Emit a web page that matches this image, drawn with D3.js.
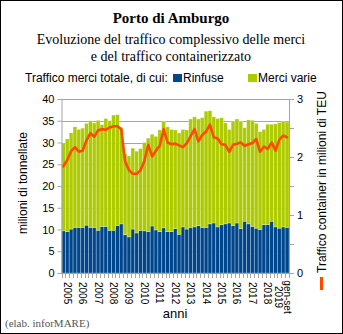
<!DOCTYPE html>
<html>

<head>
  <meta charset="utf-8">
  <script src="https://d3js.org/d3.v7.min.js"></script>
  <style>
    html,
    body {
      margin: 0;
      padding: 0;
      background: #fff;
    }
  </style>
</head>

<body>
  <div id="chart"></div>

  <script>
    // quarterly series, 2005 Q1 .. 2019 Q3
    var years = ["2005", "2006", "2007", "2008", "2009", "2010", "2011", "2012",
      "2013", "2014", "2015", "2016", "2017", "2018", "2019"];

    // million tonnes
    var rinfuse = [9.7, 9.5, 10.1, 10.5, 10.5, 10.5, 11.0, 10.5, 10.5, 9.8,
      10.7, 10.7, 9.8, 9.8, 10.9, 11.3, 8.8, 8.3, 10.1, 9.2,
      9.8, 9.7, 9.5, 10.8, 9.9, 9.5, 10.4, 9.5, 9.5, 10.2,
      8.9, 10.6, 10.1, 10.5, 10.6, 10.9, 10.5, 10.5, 11.3, 11.5,
      10.6, 11.1, 11.3, 11.5, 10.9, 11.5, 10.2, 11.9, 11.3, 10.7,
      10.3, 10.0, 11.1, 11.1, 11.9, 10.6, 10.3, 10.6, 10.5];

    var merciVarie = [20.2, 21.3, 22.1, 23.1, 22.5, 22.8, 23.4, 24.5, 24.0, 25.3,
      23.4, 24.8, 25.2, 26.5, 25.5, 22.0, 18.6, 18.6, 18.6, 18.8,
      18.8, 20.3, 21.5, 21.1, 21.5, 23.4, 24.4, 24.1, 23.5, 22.7,
      23.3, 22.4, 22.8, 24.9, 25.3, 24.5, 25.2, 26.7, 26.0, 24.4,
      24.9, 24.6, 23.2, 21.5, 24.0, 23.9, 24.6, 21.5, 23.9, 24.4,
      24.1, 22.5, 21.9, 23.1, 22.3, 23.7, 24.3, 24.3, 24.2];

    // million TEU
    var teu = [1.84, 1.95, 2.10, 2.17, 2.09, 2.11, 2.29, 2.41, 2.35, 2.46,
      2.48, 2.47, 2.51, 2.53, 2.53, 2.48, 1.92, 1.77, 1.71, 1.71,
      1.77, 1.93, 2.21, 2.01, 2.11, 2.20, 2.48, 2.25, 2.22, 2.23,
      2.20, 2.17, 2.24, 2.36, 2.48, 2.27, 2.38, 2.44, 2.56, 2.34,
      2.32, 2.22, 2.21, 2.09, 2.21, 2.23, 2.25, 2.19, 2.22, 2.24,
      2.31, 2.09, 2.18, 2.14, 2.25, 2.11, 2.30, 2.37, 2.34];

    var leftTicks = [0, 5, 10, 15, 20, 25, 30, 35, 40];
    var rightTicks = [0, 0.5, 1, 1.5, 2, 2.5, 3];
    var rightLabels = [0, 1, 2, 3];

    var quarters = [];
    years.forEach(function (y) {
      ["T1", "T2", "T3", "T4"].forEach(function (q) {
        if (quarters.length < rinfuse.length) quarters.push(y + " " + q);
      });
    });

    var W = 343, H = 334;
    var blue = "#00468c", green = "#aecb00", orange = "#ff4a00", grid = "#a6a6a6";
    var sans = "'Liberation Sans', Arial, sans-serif";
    var serif = "'Liberation Serif', 'Times New Roman', serif";

    var svg = d3.select("#chart").append("svg")
      .attr("width", W)
      .attr("height", H);

    // frame
    svg.append("rect")
      .attr("x", 0.5).attr("y", 0.5)
      .attr("width", W - 1).attr("height", H - 1)
      .attr("fill", "#fff")
      .attr("stroke", "#000");

    // titles
    svg.append("text")
      .attr("x", 171).attr("y", 23)
      .attr("text-anchor", "middle")
      .attr("font-family", serif).attr("font-weight", "bold").attr("font-size", 15)
      .text("Porto di Amburgo");

    svg.append("text")
      .attr("x", 171).attr("y", 44)
      .attr("text-anchor", "middle")
      .attr("font-family", serif).attr("font-size", 14)
      .text("Evoluzione del traffico complessivo delle merci");

    svg.append("text")
      .attr("x", 171).attr("y", 61)
      .attr("text-anchor", "middle")
      .attr("font-family", serif).attr("font-size", 14)
      .text("e del traffico containerizzato");

    // legend row
    var legend = svg.append("g")
      .attr("font-family", sans).attr("font-size", 12);
    legend.append("text").attr("x", 25).attr("y", 82).text("Traffico merci totale, di cui:");
    legend.append("rect").attr("x", 173).attr("y", 74).attr("width", 9).attr("height", 8).attr("fill", blue);
    legend.append("text").attr("x", 183).attr("y", 82).text("Rinfuse");
    legend.append("rect").attr("x", 248).attr("y", 74).attr("width", 9).attr("height", 8).attr("fill", green);
    legend.append("text").attr("x", 258).attr("y", 82).text("Merci varie");

    // scales
    var x = d3.scaleBand()
      .domain(quarters)
      .range([61.5, 289])
      .padding(0);

    var yL = d3.scaleLinear().domain([0, 40]).range([273, 99]);
    var yR = d3.scaleLinear().domain([0, 3]).range([273, 99]);

    // horizontal gridlines
    svg.append("g")
      .selectAll("line")
      .data(leftTicks.slice(1))
      .join("line")
      .attr("x1", 61.5).attr("x2", 289)
      .attr("y1", d => Math.round(yL(d)) + 0.5)
      .attr("y2", d => Math.round(yL(d)) + 0.5)
      .attr("stroke", grid);

    // stacked bars
    var rows = quarters.map((q, i) => ({ q: q, rinfuse: rinfuse[i], merci: merciVarie[i] }));
    var stack = d3.stack().keys(["rinfuse", "merci"])(rows);
    var colors = { rinfuse: blue, merci: green };

    svg.append("g")
      .selectAll("g")
      .data(stack)
      .join("g")
      .attr("fill", d => colors[d.key])
      .selectAll("rect")
      .data(d => d)
      .join("rect")
      .attr("x", d => x(d.data.q))
      .attr("width", x.bandwidth())
      .attr("y", d => yL(d[1]))
      .attr("height", d => yL(d[0]) - yL(d[1]))
      .attr("stroke", "rgba(255,255,255,0.4)")
      .attr("stroke-width", 0.7);

    // left axis
    var left = svg.append("g")
      .attr("transform", "translate(61.5,0)")
      .call(d3.axisLeft(yL).tickValues(leftTicks).tickSize(4).tickPadding(3));

    // right axis
    var right = svg.append("g")
      .attr("transform", "translate(289,0)")
      .call(d3.axisRight(yR).tickValues(rightTicks).tickSize(5).tickPadding(3)
        .tickFormat(d => rightLabels.indexOf(d) >= 0 ? d3.format("d")(d) : ""));

    [left, right].forEach(function (g) {
      g.select(".domain").attr("stroke", grid);
      g.selectAll(".tick line").attr("stroke", grid);
      g.selectAll("text").attr("font-family", sans).attr("font-size", 11).attr("fill", "#000");
    });

    // bottom axis: tick at every quarter boundary
    var bottom = svg.append("g").attr("transform", "translate(0,273)");
    bottom.append("line")
      .attr("x1", 61.5).attr("x2", 289).attr("y1", 0.5).attr("y2", 0.5)
      .attr("stroke", grid);
    bottom.selectAll(".tk")
      .data(quarters.concat([null]))
      .join("line")
      .attr("class", "tk")
      .attr("x1", (d, i) => Math.round(61.5 + i * x.step()) + 0.5)
      .attr("x2", (d, i) => Math.round(61.5 + i * x.step()) + 0.5)
      .attr("y1", 0).attr("y2", 5)
      .attr("stroke", grid);

    // year labels on the second quarter of each year
    var yearLabels = years.slice(0, -1).map(y => ({ q: y + " T2", lines: [y] }));
    yearLabels.push({ q: "2019 T2", lines: ["gen-set", "2019"] });

    bottom.selectAll(".yl")
      .data(yearLabels)
      .join("g")
      .attr("class", "yl")
      .attr("transform", d => "translate(" + (x(d.q) + x.bandwidth() / 2) + ",9) rotate(90)")
      .each(function (d) {
        var g = d3.select(this);
        var n = d.lines.length;
        d.lines.forEach(function (t, k) {
          g.append("text")
            .attr("x", n > 1 ? 15 : 0)
            .attr("y", (k - (n - 1) / 2) * 9.5)
            .attr("dy", "0.35em")
            .attr("text-anchor", n > 1 ? "middle" : "start")
            .attr("font-family", sans).attr("font-size", 10)
            .text(t);
        });
      });

    // container line
    svg.append("path")
      .datum(teu)
      .attr("fill", "none")
      .attr("stroke", orange)
      .attr("stroke-width", 2.6)
      .attr("stroke-linejoin", "round")
      .attr("stroke-linecap", "round")
      .attr("d", d3.line()
        .x((d, i) => x(quarters[i]) + x.bandwidth() / 2)
        .y(d => yR(d)));

    // axis titles
    svg.append("text")
      .attr("transform", "translate(27,183) rotate(-90)")
      .attr("text-anchor", "middle")
      .attr("font-family", sans).attr("font-size", 12)
      .text("milioni di tonnellate");

    svg.append("text")
      .attr("x", 175).attr("y", 318)
      .attr("text-anchor", "middle")
      .attr("font-family", sans).attr("font-size", 13)
      .text("anni");

    // right legend entry for the line, rotated
    svg.append("line")
      .attr("x1", 321.5).attr("x2", 321.5)
      .attr("y1", 277).attr("y2", 290)
      .attr("stroke", orange).attr("stroke-width", 3);

    svg.append("text")
      .attr("transform", "translate(326,273) rotate(-90)")
      .attr("text-anchor", "start")
      .attr("font-family", sans).attr("font-size", 12)
      .text("Traffico container in milioni di TEU");

    // source note
    svg.append("text")
      .attr("x", 5).attr("y", 327)
      .attr("font-family", serif).attr("font-size", 11)
      .attr("fill", "#555")
      .text("(elab. inforMARE)");
  </script>
</body>

</html>
